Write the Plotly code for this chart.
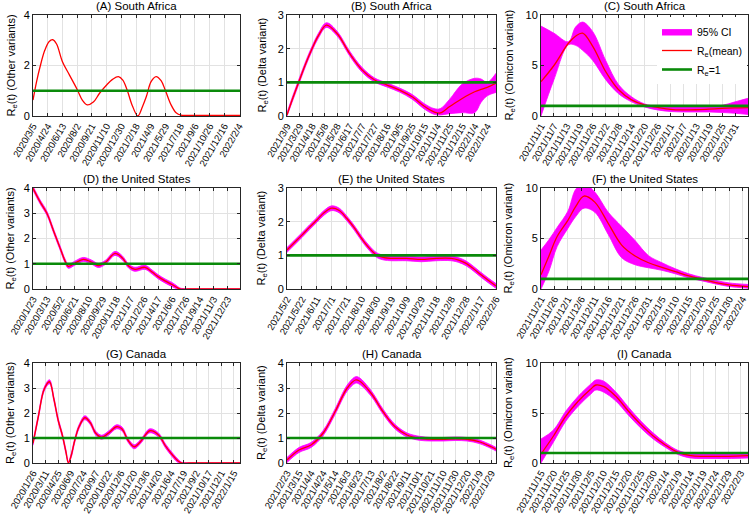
import plotly.graph_objects as go

# ------------------------- data -------------------------
A_ticks = ["2020/3/5", "2020/4/24", "2020/6/13", "2020/8/2", "2020/9/21", "2020/11/10", "2020/12/30",
           "2021/2/18", "2021/4/9", "2021/5/29", "2021/7/18", "2021/9/6", "2021/10/26", "2021/12/16", "2022/2/4"]
A_days = [0, 12, 24, 40, 55, 67, 80, 100, 124, 150, 168, 184, 205, 226, 250, 270, 290, 305, 320, 337,
          356, 372, 385, 401, 418, 435, 450, 469, 486, 503, 520, 560, 600, 650, 703]
A_mean = [0.63, 1.35, 1.95, 2.6, 2.95, 3.02, 2.85, 2.15, 1.62, 1.05, 0.62, 0.44, 0.55, 0.9, 1.23, 1.45, 1.56, 1.42, 1.02, 0.42,
          0.0, 0.38, 0.77, 1.36, 1.56, 1.4, 1.0, 0.44, 0.13, 0.03, 0.02, 0.02, 0.02, 0.02, 0.02]

B_ticks = ["2021/3/9", "2021/3/29", "2021/4/18", "2021/5/8", "2021/5/28", "2021/6/17", "2021/7/7", "2021/7/27",
           "2021/8/16", "2021/9/5", "2021/9/25", "2021/10/15", "2021/11/4", "2021/11/25", "2021/12/15", "2022/1/4", "2022/1/24"]
B_days = [0, 10, 20, 30, 40, 50, 63, 80, 100, 120, 140, 160, 180, 200, 220, 235, 245, 260, 280, 300, 310, 320, 334]
B_mean = [0.03, 0.57, 1.07, 1.56, 2.0, 2.38, 2.7, 2.45, 1.86, 1.37, 1.07, 0.92, 0.77, 0.57, 0.28, 0.12, 0.09, 0.28, 0.52, 0.72, 0.79, 0.85, 0.97]
B_hi = [0.1, 0.64, 1.14, 1.63, 2.07, 2.45, 2.77, 2.52, 1.93, 1.44, 1.13, 0.98, 0.83, 0.64, 0.36, 0.22, 0.22, 0.5, 0.95, 1.12, 1.1, 1.0, 1.27]
B_lo = [0.0, 0.5, 1.0, 1.49, 1.93, 2.31, 2.63, 2.38, 1.79, 1.3, 1.01, 0.86, 0.71, 0.5, 0.2, 0.05, 0.03, 0.07, 0.1, 0.1, 0.4, 0.6, 0.7]

C_ticks = ["2021/11/1", "2021/11/7", "2021/11/13", "2021/11/19", "2021/11/26", "2021/12/2", "2021/12/8", "2021/12/14",
           "2021/12/20", "2021/12/26", "2022/1/1", "2022/1/7", "2022/1/13", "2022/1/19", "2022/1/25", "2022/1/31", "2022/2/6"]
C_days = [0, 6, 12.7, 16, 19.3, 24, 30, 36, 42, 48, 54, 60, 66, 72, 78, 84, 90, 96]
C_mean = [3.4, 5.0, 7.2, 7.9, 8.2, 6.9, 4.4, 2.6, 1.6, 1.1, 0.86, 0.66, 0.6, 0.62, 0.68, 0.75, 0.8, 0.83]
C_hi = [8.9, 8.2, 7.35, 8.8, 9.3, 8.35, 5.5, 3.1, 1.9, 1.2, 0.95, 0.9, 0.9, 0.9, 0.95, 1.05, 1.4, 1.75]
C_lo = [0.0, 3.6, 7.05, 7.0, 6.5, 5.5, 3.6, 2.2, 1.4, 0.9, 0.6, 0.45, 0.4, 0.4, 0.4, 0.35, 0.27, 0.15]

D_ticks = ["2020/1/23", "2020/3/13", "2020/5/2", "2020/6/21", "2020/8/10", "2020/9/29", "2020/11/18", "2021/1/7",
           "2021/2/26", "2021/4/17", "2021/6/6", "2021/7/26", "2021/9/14", "2021/11/3", "2021/12/23"]
D_days = [0, 25, 50, 75, 100, 115, 127, 150, 181, 210, 235, 260, 295, 320, 345, 367, 403, 430, 450, 475, 500, 515, 529, 560, 620, 680, 745]
D_mean = [3.99, 3.46, 3.0, 2.27, 1.55, 1.12, 0.9, 1.02, 1.17, 1.07, 0.93, 1.05, 1.41, 1.25, 0.9, 0.78, 0.86, 0.66, 0.49, 0.32,
          0.18, 0.08, 0.0, 0.0, 0.0, 0.0, 0.0]
D_hi = [4.07, 3.54, 3.08, 2.35, 1.63, 1.2, 0.98, 1.1, 1.25, 1.15, 1.01, 1.13, 1.49, 1.33, 0.98, 0.86, 0.94, 0.74, 0.57, 0.4,
        0.26, 0.15, 0.04, 0.0, 0.0, 0.0, 0.0]
D_lo = [3.91, 3.38, 2.92, 2.19, 1.47, 1.04, 0.82, 0.94, 1.09, 0.99, 0.85, 0.97, 1.33, 1.17, 0.82, 0.7, 0.78, 0.58, 0.41, 0.24,
        0.1, 0.02, 0.0, 0.0, 0.0, 0.0, 0.0]

E_ticks = ["2021/5/2", "2021/5/22", "2021/6/11", "2021/7/1", "2021/7/21", "2021/8/10", "2021/8/30", "2021/9/19",
           "2021/10/9", "2021/10/29", "2021/11/18", "2021/12/8", "2021/12/28", "2022/1/17", "2022/2/6"]
E_days = [0, 10, 20, 30, 40, 50, 60, 70, 80, 90, 100, 110, 120, 130, 140, 160, 180, 200, 220, 230, 240, 250, 260, 270, 280]
E_mean = [1.16, 1.38, 1.6, 1.83, 2.05, 2.27, 2.4, 2.33, 2.1, 1.82, 1.5, 1.22, 1.01, 0.93, 0.91, 0.91, 0.88, 0.91, 0.91, 0.86,
          0.76, 0.6, 0.42, 0.25, 0.09]
E_hi = [1.23, 1.45, 1.67, 1.9, 2.12, 2.34, 2.47, 2.4, 2.17, 1.89, 1.57, 1.29, 1.08, 1.0, 0.98, 0.98, 0.95, 0.98, 0.98, 0.93,
        0.83, 0.67, 0.49, 0.32, 0.16]
E_lo = [1.09, 1.31, 1.53, 1.76, 1.98, 2.2, 2.33, 2.26, 2.03, 1.75, 1.43, 1.15, 0.94, 0.86, 0.84, 0.84, 0.81, 0.84, 0.84, 0.79,
        0.69, 0.53, 0.35, 0.18, 0.02]

F_ticks = ["2021/11/21", "2021/11/26", "2021/12/1", "2021/12/6", "2021/12/11", "2021/12/16", "2021/12/21", "2021/12/26",
           "2021/12/31", "2022/1/5", "2022/1/10", "2022/1/15", "2022/1/20", "2022/1/25", "2022/1/30", "2022/2/4"]
F_days = [0, 3, 6, 10, 13, 16, 20, 25, 30, 35, 40, 45, 50, 55, 60, 65, 70, 77]
F_mean = [1.4, 3.3, 5.2, 6.8, 8.2, 9.2, 8.6, 6.5, 4.35, 3.27, 2.6, 2.15, 1.72, 1.29, 0.96, 0.63, 0.4, 0.23]
F_hi = [3.86, 4.9, 6.1, 7.7, 9.9, 10.4, 9.6, 7.6, 6.2, 4.8, 3.3, 2.6, 2.0, 1.5, 1.15, 0.85, 0.6, 0.45]
F_lo = [0.0, 1.8, 4.2, 6.0, 7.2, 8.0, 7.6, 5.4, 3.1, 2.4, 2.1, 1.85, 1.5, 1.1, 0.8, 0.5, 0.25, 0.08]

G_ticks = ["2020/1/26", "2020/3/11", "2020/4/25", "2020/6/9", "2020/7/24", "2020/9/7", "2020/10/22", "2020/12/6",
           "2021/1/20", "2021/3/6", "2021/4/20", "2021/6/4", "2021/7/19", "2021/9/2", "2021/10/17", "2021/12/1", "2022/1/15"]
G_days = [0, 19, 40, 59, 75, 90, 105, 118, 127, 137, 150, 165, 186, 205, 225, 246, 270, 300, 320, 340,
          363, 385, 419, 450, 475, 500, 520, 533, 560, 650, 742]
G_mean = [0.79, 1.85, 2.95, 3.25, 2.55, 1.72, 1.12, 0.45, 0.0, 0.3, 0.92, 1.45, 1.81, 1.62, 1.19, 1.03, 1.19, 1.45, 1.35, 0.92,
          0.65, 0.85, 1.29, 1.12, 0.68, 0.32, 0.08, 0.0, 0.0, 0.0, 0.0]
G_hi = [0.87, 1.93, 3.03, 3.33, 2.63, 1.8, 1.2, 0.53, 0.06, 0.38, 1.0, 1.53, 1.89, 1.7, 1.27, 1.11, 1.27, 1.53, 1.43, 1.0,
        0.73, 0.93, 1.37, 1.2, 0.76, 0.4, 0.15, 0.03, 0.0, 0.0, 0.0]
G_lo = [0.71, 1.77, 2.87, 3.17, 2.47, 1.64, 1.04, 0.37, 0.0, 0.22, 0.84, 1.37, 1.73, 1.54, 1.11, 0.95, 1.11, 1.37, 1.27, 0.84,
        0.57, 0.77, 1.21, 1.04, 0.6, 0.24, 0.02, 0.0, 0.0, 0.0, 0.0]

H_ticks = ["2021/2/23", "2021/3/15", "2021/4/4", "2021/4/24", "2021/5/14", "2021/6/3", "2021/6/23", "2021/7/13", "2021/8/2",
           "2021/8/22", "2021/9/11", "2021/10/1", "2021/10/21", "2021/11/10", "2021/11/30", "2021/12/20", "2022/1/9", "2022/1/29"]
H_days = [0, 20, 40, 60, 80, 100, 114, 120, 140, 160, 180, 200, 220, 240, 260, 280, 300, 320, 340, 348]
H_mean = [0.12, 0.52, 0.72, 1.19, 2.05, 2.99, 3.32, 3.29, 2.79, 2.05, 1.45, 1.12, 0.99, 0.95, 0.95, 0.97, 0.95, 0.85, 0.65, 0.55]
H_hi = [0.22, 0.62, 0.82, 1.29, 2.16, 3.11, 3.45, 3.42, 2.9, 2.15, 1.54, 1.2, 1.07, 1.02, 1.02, 1.04, 1.02, 0.92, 0.72, 0.62]
H_lo = [0.02, 0.42, 0.62, 1.09, 1.94, 2.87, 3.19, 3.16, 2.68, 1.95, 1.36, 1.04, 0.91, 0.88, 0.88, 0.9, 0.88, 0.78, 0.58, 0.48]

I_ticks = ["2021/11/15", "2021/11/20", "2021/11/25", "2021/11/30", "2021/12/5", "2021/12/10", "2021/12/15", "2021/12/20",
           "2021/12/25", "2021/12/30", "2022/1/4", "2022/1/9", "2022/1/14", "2022/1/19", "2022/1/24", "2022/1/29", "2022/2/3"]
I_days = [0, 5, 10, 15, 20, 22, 25, 30, 35, 40, 45, 50, 55, 60, 65, 70, 75, 83]
I_mean = [0.9, 2.7, 4.7, 6.2, 7.4, 7.8, 7.66, 6.67, 5.2, 3.86, 2.7, 1.78, 1.06, 0.73, 0.66, 0.66, 0.66, 0.73]
I_hi = [2.4, 3.3, 5.2, 6.7, 7.9, 8.3, 8.2, 7.1, 5.6, 4.2, 3.0, 2.0, 1.25, 0.95, 0.9, 0.9, 0.9, 0.95]
I_lo = [0.0, 2.1, 4.2, 5.7, 6.9, 7.3, 7.1, 6.2, 4.8, 3.5, 2.4, 1.55, 0.85, 0.5, 0.45, 0.45, 0.45, 0.5]

RE_THRESHOLD = 1

# ------------------------- layout helpers -------------------------
FONT = "Arial, 'Liberation Sans', Helvetica, sans-serif"
W, H = 750, 516
COLS = [(33, 240), (287, 496), (541, 748)]
ROWS = [(15, 116), (188, 289), (363, 463)]
YLAB_X = [11, 262, 509]

OTHER = "R<sub>e</sub>(t) (Other variants)"
DELTA = "R<sub>e</sub>(t) (Delta variant)"
OMI = "R<sub>e</sub>(t) (Omicron variant)"

panels = [
    ("(A) South Africa", OTHER, A_days, A_mean, None, None, A_ticks, 50, 703, 4, 2),
    ("(B) South Africa", DELTA, B_days, B_mean, B_lo, B_hi, B_ticks, 20, 334, 3, 1),
    ("(C) South Africa", OMI, C_days, C_mean, C_lo, C_hi, C_ticks, 6, 96, 10, 5),
    ("(D) the United States", OTHER, D_days, D_mean, D_lo, D_hi, D_ticks, 50, 745, 4, 1),
    ("(E) the United States", DELTA, E_days, E_mean, E_lo, E_hi, E_ticks, 20, 280, 3, 1),
    ("(F) the United States", OMI, F_days, F_mean, F_lo, F_hi, F_ticks, 5, 77, 10, 5),
    ("(G) Canada", OTHER, G_days, G_mean, G_lo, G_hi, G_ticks, 45, 742, 4, 1),
    ("(H) Canada", DELTA, H_days, H_mean, H_lo, H_hi, H_ticks, 20, 348, 4, 1),
    ("(I) Canada", OMI, I_days, I_mean, I_lo, I_hi, I_ticks, 5, 83, 10, 5),
]

MAGENTA = "#ff00ff"
RED = "#ff0000"
GREEN = "#0a8a0a"

fig = go.Figure()
layout_axes = {}
annotations = []

for k, (title, ylab, days, mean, lo, hi, ticks, step, xmax, ymax, dtick) in enumerate(panels):
    r, c = divmod(k, 3)
    sfx = "" if k == 0 else str(k + 1)
    xa, ya = "x" + sfx, "y" + sfx
    leg = (k == 2)

    if lo is not None:
        fig.add_trace(go.Scatter(x=days, y=hi, mode="lines", xaxis=xa, yaxis=ya,
                                 line=dict(color=MAGENTA, width=0.8, shape="spline"),
                                 showlegend=False, hoverinfo="skip"))
        fig.add_trace(go.Scatter(x=days, y=lo, mode="lines", xaxis=xa, yaxis=ya,
                                 line=dict(color=MAGENTA, width=0.8, shape="spline"),
                                 fill="tonexty", fillcolor=MAGENTA,
                                 name="95% CI", showlegend=leg))
    fig.add_trace(go.Scatter(x=days, y=mean, mode="lines", xaxis=xa, yaxis=ya,
                             line=dict(color=RED, width=1.3, shape="spline"),
                             name="R<sub>e</sub>(mean)", showlegend=leg))
    fig.add_trace(go.Scatter(x=[days[0], xmax], y=[RE_THRESHOLD, RE_THRESHOLD], mode="lines",
                             xaxis=xa, yaxis=ya, line=dict(color=GREEN, width=2.6),
                             name="R<sub>e</sub>=1", showlegend=leg))

    common = dict(showline=True, linecolor="#262626", linewidth=1, mirror="ticks",
                  ticks="inside", ticklen=3, tickcolor="#262626",
                  showgrid=True, gridcolor="#e2e2e2", gridwidth=1, zeroline=False,
                  automargin=False)
    layout_axes["xaxis" + sfx] = dict(
        domain=[COLS[c][0] / W, COLS[c][1] / W], anchor=ya, range=[0, xmax],
        tickmode="array", tickvals=[i * step for i in range(len(ticks))], ticktext=ticks,
        tickangle=-60, tickfont=dict(size=9.5, color="black", family=FONT), **common)
    layout_axes["yaxis" + sfx] = dict(
        domain=[1 - ROWS[r][1] / H, 1 - ROWS[r][0] / H], anchor=xa, range=[0, ymax],
        tick0=0, dtick=dtick, tickfont=dict(size=11, color="black", family=FONT), **common)

    annotations.append(dict(text=title, x=(COLS[c][0] + COLS[c][1]) / 2 / W, y=1 - (ROWS[r][0] - 1) / H,
                            xref="paper", yref="paper", xanchor="center", yanchor="bottom",
                            showarrow=False, font=dict(size=11.5, color="black", family=FONT)))
    annotations.append(dict(text=ylab, x=YLAB_X[c] / W, y=1 - (ROWS[r][0] + ROWS[r][1]) / 2 / H,
                            xref="paper", yref="paper", xanchor="center", yanchor="middle",
                            textangle=-90, showarrow=False,
                            font=dict(size=11, color="black", family=FONT)))

fig.update_layout(**layout_axes)
fig.update_layout(
    annotations=annotations,
    width=W, height=H,
    margin=dict(l=0, r=0, t=0, b=0),
    paper_bgcolor="white", plot_bgcolor="white",
    showlegend=True,
    hovermode=False,
    legend=dict(x=747 / W, xanchor="right", y=1 - 17 / H, yanchor="top",
                bgcolor="white", borderwidth=0, tracegroupgap=0, itemwidth=30,
                traceorder="normal",
                font=dict(size=10.5, color="black", family=FONT)),
)

fig.write_html("out.html",
               config={"displayModeBar": False},
               post_script="document.body.style.margin='0';document.body.style.padding='0';"
                           "document.body.style.overflow='hidden';")
